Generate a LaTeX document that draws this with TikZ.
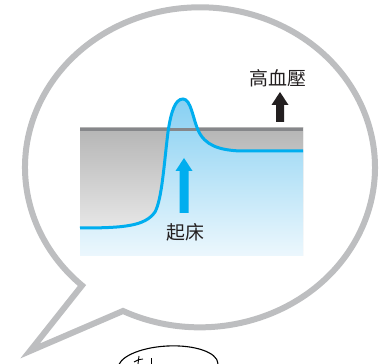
\documentclass[tikz,border=0pt]{standalone}
\usepackage{fontspec}
\newfontfamily\cjk{Noto Sans CJK TC}
\definecolor{bubble}{HTML}{BDBEC0}
\definecolor{curveblue}{HTML}{00AEEF}
\definecolor{topline}{HTML}{86878A}
\definecolor{txt}{HTML}{231F20}
\tikzset{
  bubblestroke/.style={draw=bubble, line width=6bp, line join=miter, fill=white},
  curvestroke/.style={draw=curveblue, line width=3bp},
  label/.style={font=\cjk\fontsize{19}{19}\selectfont, text=txt, inner sep=0pt},
  sketch/.style={draw=black, line width=1.1bp},
}
\begin{document}
\begin{tikzpicture}[x=1bp,y=1bp]
\useasboundingbox (0,0) rectangle (382,364);
\begin{scope}
\clip (0,0) rectangle (382,364);
% speech bubble
\coordinate (tip) at (30,13);
\path[bubblestroke] (123,53) arc[start angle=243.9, end angle=587.6, x radius=175, y radius=160] -- (tip) -- cycle;
% chart background
\shade[top color=black!30!white!100, bottom color=white!95!black] (80,108) rectangle (303,236);
\shade[top color=black!29, bottom color=black!4] (80,108) rectangle (303,236);
% blue area under curve
\shade[top color={rgb,255:red,135;green,208;blue,242}, bottom color={rgb,255:red,236;green,247;blue,253}]
  (80,136) .. controls (125,136) and (145,138) .. (155,152)
  .. controls (162,165) and (164,200) .. (168,232)
  .. controls (171,252) and (175,265) .. (183,265)
  .. controls (191,265) and (193,245) .. (198,234)
  .. controls (205,218) and (220,214) .. (240,213)
  -- (303,213) -- (303,108) -- (80,108) -- cycle;
% top line
\draw[topline, line width=3bp] (80,234.5) -- (303,234.5);
% curve
\draw[curvestroke]
  (80,136) .. controls (125,136) and (145,138) .. (155,152)
  .. controls (162,165) and (164,200) .. (168,232)
  .. controls (171,252) and (175,265) .. (183,265)
  .. controls (191,265) and (193,245) .. (198,234)
  .. controls (205,218) and (220,214) .. (240,213)
  -- (303,213);
% blue arrow
\fill[curveblue] (179.5,151) -- (179.5,193) -- (175.5,193) -- (184,206) -- (192.5,193) -- (188.5,193) -- (188.5,151) -- cycle;
% black arrow
\fill[txt] (276,242) -- (276,259) -- (271.5,259) -- (280,272) -- (288.5,259) -- (284,259) -- (284,242) -- cycle;
% labels
\node[label] (qc) at (185,132) {起床};
\node[label] (gxy) at (278,286) {高血壓};
% small sketch at bottom
\draw[sketch, rotate around={3:(168,-2)}] (168,-2) ellipse[x radius=50, y radius=20];
\draw[sketch, line width=0.9bp] (134,2) .. controls (137,4) and (140,5) .. (143,5);
\draw[sketch, line width=0.9bp] (139,8) -- (138,0);
\draw[sketch, line width=0.9bp] (151,6) -- (151,0);
\end{scope}
\end{tikzpicture}
\end{document}
